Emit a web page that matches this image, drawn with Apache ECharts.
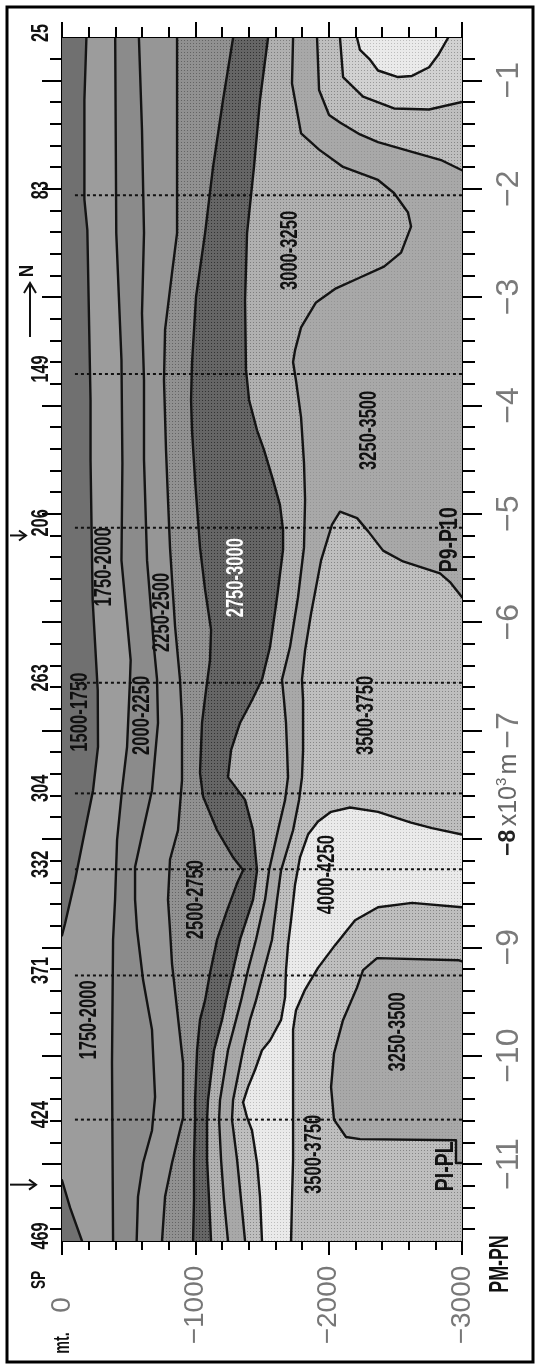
<!DOCTYPE html>
<html>
<head>
<meta charset="utf-8">
<title>Velocity section PM-PN</title>
<script src="https://cdn.jsdelivr.net/npm/echarts@6.0.0/dist/echarts.min.js"></script>
<style>
html,body{margin:0;padding:0;background:#fff;}
#chart{width:539px;height:1367px;}
</style>
</head>
<body>
<div id="chart"></div>
<script>
// ---------------- DATA ----------------
// distance along the section (x10^3 m), depth (m)
const distanceTicks = [-1, -2, -3, -4, -5, -6, -7, -8, -9, -10, -11];
const depthTicks = [0, -1000, -2000, -3000];
const shotPoints = [25, 83, 149, 206, 263, 304, 332, 371, 424, 469];
const shotPointDistance = [-0.61, -2.06, -3.71, -5.13, -6.56, -7.58, -8.28, -9.26, -10.59, -11.71];
const markedShotPoints = [83, 149, 206, 263, 304, 332, 371, 424];
const crossingNames = ['P9-P10', 'PI-PL'];
const crossingDistance = [-5.20, -11.19];

// contour lines: [distance, depth]
const contour1750a = [[-0.61,-183],[-1.18,-168],[-2.10,-168],[-2.38,-190],[-3.95,-214],[-4.50,-214],[-5.80,-230],[-6.63,-268],[-7.15,-270],[-7.55,-233],[-8.01,-158],[-8.38,-98],[-8.78,-23],[-8.89,0]];
const contour1750b = [[-11.15,0],[-11.40,-60],[-11.71,-150]];
const contour2000 = [[-0.61,-399],[-2.41,-407],[-3.58,-446],[-4.53,-453],[-5.43,-446],[-6.35,-515],[-6.53,-510],[-7.15,-488],[-7.55,-450],[-8.01,-413],[-8.56,-398],[-8.93,-383],[-10.07,-375],[-11.71,-383]];
const contour2250 = [[-0.61,-577],[-1.46,-600],[-2.41,-615],[-3.15,-600],[-3.77,-615],[-4.50,-615],[-5.43,-638],[-6.26,-692],[-6.53,-713],[-6.93,-720],[-7.55,-675],[-7.92,-608],[-8.26,-548],[-8.56,-548],[-8.84,-563],[-9.30,-608],[-9.76,-675],[-10.38,-698],[-10.69,-675],[-10.99,-608],[-11.30,-570],[-11.71,-560]];
const contour2500 = [[-0.61,-863],[-2.41,-863],[-2.78,-825],[-3.30,-773],[-3.77,-765],[-4.41,-780],[-4.87,-795],[-5.31,-810],[-6.04,-848],[-6.53,-885],[-6.90,-900],[-7.46,-900],[-7.92,-870],[-8.19,-810],[-8.56,-795],[-8.84,-810],[-9.15,-825],[-10.07,-908],[-10.57,-908],[-10.99,-825],[-11.30,-773],[-11.71,-750]];
const contour2750 = [[-0.61,-1283],[-1.18,-1208],[-1.80,-1133],[-2.41,-1073],[-3.00,-1005],[-3.61,-975],[-3.95,-968],[-4.23,-975],[-4.69,-998],[-5.31,-1035],[-5.70,-1073],[-6.07,-1118],[-6.35,-1110],[-6.63,-1080],[-6.93,-1050],[-7.39,-1035],[-7.61,-1058],[-7.92,-1163],[-8.17,-1283],[-8.29,-1358],[-8.41,-1313],[-8.66,-1238],[-8.93,-1163],[-9.24,-1110],[-9.49,-1073],[-9.67,-1035],[-9.95,-1013],[-10.41,-998],[-10.59,-998],[-10.96,-990],[-11.33,-990],[-11.71,-983]];
const contour3000 = [[-0.61,-1545],[-1.18,-1485],[-1.80,-1440],[-2.41,-1388],[-3.03,-1373],[-3.67,-1380],[-3.95,-1403],[-4.23,-1463],[-4.41,-1515],[-4.69,-1583],[-4.92,-1635],[-5.15,-1658],[-5.33,-1658],[-5.77,-1613],[-6.23,-1560],[-6.53,-1500],[-6.72,-1425],[-6.93,-1335],[-7.18,-1268],[-7.43,-1245],[-7.64,-1373],[-7.92,-1433],[-8.29,-1463],[-8.56,-1433],[-8.93,-1335],[-9.21,-1283],[-9.49,-1230],[-9.67,-1200],[-9.95,-1140],[-10.41,-1095],[-10.59,-1088],[-10.96,-1088],[-11.33,-1103],[-11.71,-1118]];
const contour3250 = [[-0.61,-1733],[-1.03,-1725],[-1.49,-1793],[-1.64,-1928],[-1.80,-2108],[-1.92,-2370],[-2.04,-2490],[-2.22,-2595],[-2.35,-2618],[-2.59,-2543],[-2.72,-2415],[-2.82,-2235],[-2.92,-2055],[-3.05,-1905],[-3.28,-1793],[-3.49,-1748],[-3.60,-1733],[-3.77,-1755],[-4.11,-1793],[-4.53,-1815],[-4.87,-1823],[-5.31,-1815],[-5.77,-1770],[-6.23,-1710],[-6.53,-1650],[-6.72,-1665],[-6.93,-1680],[-7.18,-1688],[-7.43,-1695],[-7.64,-1673],[-7.92,-1620],[-8.29,-1553],[-8.56,-1523],[-8.93,-1455],[-9.21,-1395],[-9.49,-1343],[-9.67,-1305],[-9.95,-1245],[-10.41,-1185],[-10.59,-1178],[-10.96,-1193],[-11.33,-1215],[-11.71,-1245]];
const contour3500top = [[-0.61,-1913],[-1.09,-1928],[-1.32,-2003],[-1.39,-2085],[-1.50,-2235],[-1.57,-2370],[-1.66,-2625],[-1.74,-2850],[-1.83,-3000]];
const contour3500mid = [[-5.77,-3000],[-5.63,-2910],[-5.55,-2835],[-5.49,-2685],[-5.44,-2558],[-5.34,-2408],[-5.16,-2295],[-5.04,-2213],[-4.98,-2085],[-5.10,-2025],[-5.43,-1943],[-5.92,-1868],[-6.26,-1823],[-6.53,-1800],[-6.72,-1808],[-7.18,-1808],[-7.43,-1800],[-7.64,-1778],[-7.92,-1733],[-8.29,-1643],[-8.56,-1613],[-8.93,-1575],[-9.21,-1515],[-9.49,-1455],[-9.67,-1410],[-9.95,-1358],[-10.41,-1283],[-10.59,-1275],[-10.96,-1313],[-11.33,-1343],[-11.71,-1373]];
const contour3750top = [[-0.61,-2085],[-0.97,-2108],[-1.15,-2258],[-1.26,-2490],[-1.27,-2753],[-1.20,-3000]];
const contour4000top = [[-0.61,-2213],[-0.72,-2235],[-0.81,-2310],[-0.91,-2370],[-0.97,-2520],[-0.96,-2625],[-0.88,-2753],[-0.77,-2820],[-0.61,-2895]];
const contour3750mid = [[-7.96,-3000],[-7.90,-2775],[-7.85,-2618],[-7.75,-2370],[-7.71,-2160],[-7.75,-2018],[-7.84,-1920],[-7.96,-1845],[-8.17,-1785],[-8.42,-1748],[-8.75,-1718],[-8.98,-1695],[-9.21,-1680],[-9.46,-1673],[-9.67,-1643],[-9.86,-1560],[-9.95,-1500],[-10.13,-1448],[-10.29,-1395],[-10.43,-1358],[-10.57,-1388],[-10.69,-1425],[-10.99,-1463],[-11.30,-1485],[-11.71,-1500]];
const contour3750low = [[-8.63,-3000],[-8.59,-2625],[-8.63,-2370],[-8.75,-2198],[-8.98,-2048],[-9.19,-1920],[-9.39,-1823],[-9.58,-1755],[-9.76,-1733],[-10.41,-1733],[-10.96,-1733],[-11.33,-1725],[-11.71,-1718]];
const contour3500low = [[-9.13,-3000],[-9.12,-2978],[-9.10,-2363],[-9.21,-2258],[-9.37,-2213],[-9.67,-2108],[-9.98,-2040],[-10.29,-2018],[-10.59,-2040],[-10.75,-2130],[-10.77,-2235],[-10.78,-2955],[-10.99,-2955],[-10.99,-3000]];

// interval labels: [text, distance, depth]
const intervalLabels = [
  ['1500-1750', -6.83, -143],
  ['1750-2000', -5.49, -319],
  ['2000-2250', -6.86, -604],
  ['2250-2500', -5.91, -754],
  ['2500-2750', -8.56, -1013],
  ['2750-3000', -5.59, -1313],
  ['3000-3250', -2.57, -1715],
  ['3250-3500', -4.23, -2310],
  ['3500-3750', -6.86, -2288],
  ['4000-4250', -8.33, -1995],
  ['3250-3500', -9.78, -2525],
  ['3500-3750', -10.91, -1895],
  ['1750-2000', -9.67, -210]
];
const crossingLabelDepth = [-2910, -2880];
const crossingLabelDistance = [-5.24, -11.02];

// ---------------- STYLE ----------------
const TOPD = -0.61, BOTD = -11.71, DEEP = -3000, SURF = 0;
// grey level and halftone strength of each interval
const SHADE = {
  v1500:['#707070', 0], v1750:['#9c9c9c', 0], v2000:['#8b8b8b', 0], v2250:['#969696', 0],
  v2500:['#8c8c8c', 40], v2750:['#5f5f5f', 45], v3000:['#aaaaaa', 45], v3250:['#a6a6a6', 18],
  v3500:['#b8b8b8', 50], v3750:['#cbcbcb', 50], v4000:['#e5e5e5', 40]
};
const FONT = 'Liberation Sans, Arial, sans-serif';

function halftone(shade){
  const base = parseInt(shade[0].slice(1, 3), 16), amp = shade[1];
  if (!amp) return shade[0];
  const cv = document.createElement('canvas');
  cv.width = 3; cv.height = 3;
  const g = cv.getContext('2d');
  const hi = Math.min(255, Math.round(base + amp / 8)), lo = Math.max(0, base - amp);
  g.fillStyle = 'rgb(' + hi + ',' + hi + ',' + hi + ')'; g.fillRect(0, 0, 3, 3);
  g.fillStyle = 'rgb(' + lo + ',' + lo + ',' + lo + ')'; g.fillRect(1, 1, 1, 1);
  return {image: cv, repeat: 'repeat'};
}

function rightOf(line){ return line.concat([[BOTD, DEEP], [TOPD, DEEP]]); }
const fills = [
  {pts: [[TOPD, SURF], [BOTD, SURF], [BOTD, DEEP], [TOPD, DEEP]], s: SHADE.v1500},
  {pts: contour1750a.concat(contour1750b, [[BOTD, DEEP], [TOPD, DEEP]]), s: SHADE.v1750},
  {pts: rightOf(contour2000), s: SHADE.v2000},
  {pts: rightOf(contour2250), s: SHADE.v2250},
  {pts: rightOf(contour2500), s: SHADE.v2500},
  {pts: rightOf(contour2750), s: SHADE.v2750},
  {pts: rightOf(contour3000), s: SHADE.v3000},
  {pts: rightOf(contour3250), s: SHADE.v3250},
  {pts: contour3500top.concat([[TOPD, DEEP]]), s: SHADE.v3500},
  {pts: contour3500mid.concat([[BOTD, DEEP]]), s: SHADE.v3500},
  {pts: contour3750top.concat([[TOPD, DEEP]]), s: SHADE.v3750},
  {pts: contour3750mid.concat([[BOTD, DEEP]]), s: SHADE.v4000},
  {pts: contour3750low.concat([[BOTD, DEEP]]), s: SHADE.v3500},
  {pts: contour3500low, s: SHADE.v3250},
  {pts: contour4000top, s: SHADE.v4000}
];
fills.forEach(f => { f.fill = halftone(f.s); });
const strokes = [contour1750a, contour1750b, contour2000, contour2250, contour2500, contour2750,
  contour3000, contour3250, contour3500top, contour3500mid, contour3750top, contour3750mid,
  contour3750low, contour3500low, contour4000top];

const minorDistance = [];
for (let k = 4; k <= 58; k++) { if (k % 5 !== 0) minorDistance.push(-k / 5); }

function pt(api, p){ return api.coord([p[1], p[0]]); }
function clipOf(params){
  const c = params.coordSys;
  return {type:'rect', shape:{x:c.x, y:c.y, width:c.width, height:c.height}};
}
function vText(x, y, text, o){
  return {
    type:'text', x:x, y:y, rotation: Math.PI / 2, scaleX: o.sx || 1,
    style:{text:text, fill:o.fill || '#111', fontFamily:FONT, fontWeight:o.fw || 'bold',
      fontSize:o.fs || 23, align:o.align || 'center', verticalAlign:'middle'}
  };
}

const chart = echarts.init(document.getElementById('chart'), null, {width:539, height:1367, renderer:'canvas'});

const tickStyle = {color:'#000', width:2};
function xAx(pos, len, minorLen, withLabels){
  return {
    type:'value', position:pos, offset:0, min:DEEP, max:SURF, inverse:true, interval:1000,
    axisLine:{show:true, onZero:false, lineStyle:tickStyle},
    axisTick:{show:true, length:len, lineStyle:tickStyle},
    minorTick:{show:true, splitNumber:5, length:minorLen, lineStyle:tickStyle},
    splitLine:{show:false}, minorSplitLine:{show:false},
    axisLabel: withLabels ? {
      show:true, rotate:90, margin:64, align:'center', verticalAlign:'middle',
      showMinLabel:true, showMaxLabel:true,
      fontFamily:FONT, fontSize:28, color:'#777777',
      formatter: v => (v === 0 ? '0' : '\u2212' + Math.abs(v))
    } : {show:false}
  };
}
function yAx(pos, ticks, len, showLine, withLabels){
  return {
    type:'value', position:pos, offset:0, min:BOTD, max:TOPD,
    axisLine:{show:showLine, onZero:false, lineStyle:tickStyle},
    axisTick:{show:true, customValues:ticks, length:len, lineStyle:tickStyle},
    splitLine:{show:false},
    axisLabel: withLabels ? {
      show:true, customValues: distanceTicks.filter(v => v !== -8),
      rotate:90, margin:47, align:'center', verticalAlign:'middle',
      fontFamily:FONT, fontSize:32, color:'#7a7a7a',
      formatter: v => '\u2212' + Math.abs(v)
    } : {show:false}
  };
}

const option = {
  animation:false,
  backgroundColor:'#ffffff',
  grid:{left:62, top:38, width:400, height:1203, containLabel:false},
  xAxis:[ xAx('bottom', 14, 9, true), xAx('top', 16, 11, false) ],
  yAxis:[
    yAx('right', distanceTicks, 20, true, true),
    yAx('right', minorDistance, 13, false, false),
    yAx('left', distanceTicks, 20, true, false),
    yAx('left', minorDistance, 12, false, false)
  ],
  series:[
    { // filled velocity intervals
      type:'custom', name:'intervals', xAxisIndex:0, yAxisIndex:0, silent:true, clip:true,
      data: fills.map(f => [f.pts[0][1], f.pts[0][0]]),
      renderItem: (params, api) => {
        const f = fills[params.dataIndex];
        return {type:'polygon', clipPath: clipOf(params),
          shape:{points: f.pts.map(p => pt(api, p))},
          style:{fill:f.fill, stroke:f.s[0], lineWidth:0.6}};
      }
    },
    { // contour lines
      type:'custom', name:'contours', xAxisIndex:0, yAxisIndex:0, silent:true, clip:true,
      data: strokes.map(s => [s[0][1], s[0][0]]),
      renderItem: (params, api) => {
        const s = strokes[params.dataIndex];
        return {type:'polyline', clipPath: clipOf(params),
          shape:{points: s.map(p => pt(api, p))},
          style:{fill:null, stroke:'#141414', lineWidth:2.4, lineJoin:'round', lineCap:'round'}};
      }
    },
    { // shot point dotted lines
      type:'custom', name:'shotpoints', xAxisIndex:0, yAxisIndex:0, silent:true,
      data: markedShotPoints.map(sp => [-1500, shotPointDistance[shotPoints.indexOf(sp)]]),
      renderItem: (params, api) => {
        const d = api.value(1);
        const a = api.coord([-97, d]), b = api.coord([DEEP, d]);
        return {type:'line', shape:{x1:a[0], y1:a[1], x2:b[0], y2:b[1]},
          style:{stroke:'#111', lineWidth:2, lineDash:[3, 3]}};
      }
    },
    { // interval labels
      type:'custom', name:'labels', xAxisIndex:0, yAxisIndex:0, silent:true,
      data: intervalLabels.map(l => [l[2], l[1]]),
      renderItem: (params, api) => {
        const l = intervalLabels[params.dataIndex];
        const p = api.coord([l[2], l[1]]);
        return vText(p[0], p[1], l[0], {sx:0.72, fs:23, fill: l[0] === '2750-3000' ? '#ffffff' : '#111'});
      }
    },
    { // crossing line labels
      type:'custom', name:'crossings', xAxisIndex:0, yAxisIndex:0, silent:true,
      data: crossingNames.map((n, i) => [crossingLabelDepth[i], crossingLabelDistance[i]]),
      renderItem: (params, api) => {
        const p = api.coord([api.value(0), api.value(1)]);
        return vText(p[0], p[1], crossingNames[params.dataIndex], {sx:0.78, fs:25, fw:'bold'});
      }
    },
    { // shot point numbers
      type:'custom', name:'spnumbers', xAxisIndex:0, yAxisIndex:0, silent:true,
      data: shotPoints.map((sp, i) => [SURF, shotPointDistance[i]]),
      renderItem: (params, api) => {
        const p = api.coord([SURF, api.value(1)]);
        return vText(p[0] - 21, p[1] - 5, String(shotPoints[params.dataIndex]), {sx:0.68, fs:24});
      }
    }
  ]
};
chart.setOption(option);

// decorations positioned from the axes
const xLeft = chart.convertToPixel({xAxisIndex:0}, SURF);
const xRight = chart.convertToPixel({xAxisIndex:0}, DEEP);
const yBottom = chart.convertToPixel({yAxisIndex:0}, BOTD);
const y8 = chart.convertToPixel({yAxisIndex:0}, -8);
const arrowLen = [16, 26];
const graphics = [
  {type:'rect', shape:{x:7, y:7, width:526, height:1355}, style:{fill:'none', stroke:'#000', lineWidth:3}, z:100},
  {type:'text', x:xRight + 47, y:y8 + 17, rotation:Math.PI / 2,
    style:{text:'{b|\u22128} {n|x10}{s|3} {n|m}', align:'left', verticalAlign:'middle',
      rich:{
        b:{fontFamily:FONT, fontWeight:'bold', fontSize:23, fill:'#222'},
        n:{fontFamily:FONT, fontSize:25, fill:'#666'},
        s:{fontFamily:FONT, fontSize:15, fill:'#666', padding:[0, 0, 14, 0]}
      }}},
  vText(xLeft - 23, yBottom + 39, 'SP', {sx:0.65, fs:21}),
  vText(xLeft + 1, yBottom + 102, 'mt.', {sx:0.65, fs:22}),
  vText(xRight + 39, yBottom + 23, 'PM-PN', {sx:0.66, fs:27}),
  // north arrow
  {type:'line', shape:{x1:30, y1:337, x2:30, y2:284}, style:{stroke:'#111', lineWidth:2}},
  {type:'polyline', shape:{points:[[24, 293], [30, 283], [36, 293]]}, style:{stroke:'#111', lineWidth:2, fill:null}},
  vText(27, 271, 'N', {sx:0.8, fs:21})
];
crossingDistance.forEach((d, i) => {
  const y = chart.convertToPixel({yAxisIndex:0}, d);
  const x2 = 10 + arrowLen[i];
  graphics.push({type:'line', shape:{x1:10, y1:y, x2:x2, y2:y}, style:{stroke:'#111', lineWidth:2}});
  graphics.push({type:'polyline', shape:{points:[[x2 - 7, y - 5], [x2, y], [x2 - 7, y + 5]]}, style:{stroke:'#111', lineWidth:2, fill:null}});
});
chart.setOption({graphic: graphics});
</script>
</body>
</html>
